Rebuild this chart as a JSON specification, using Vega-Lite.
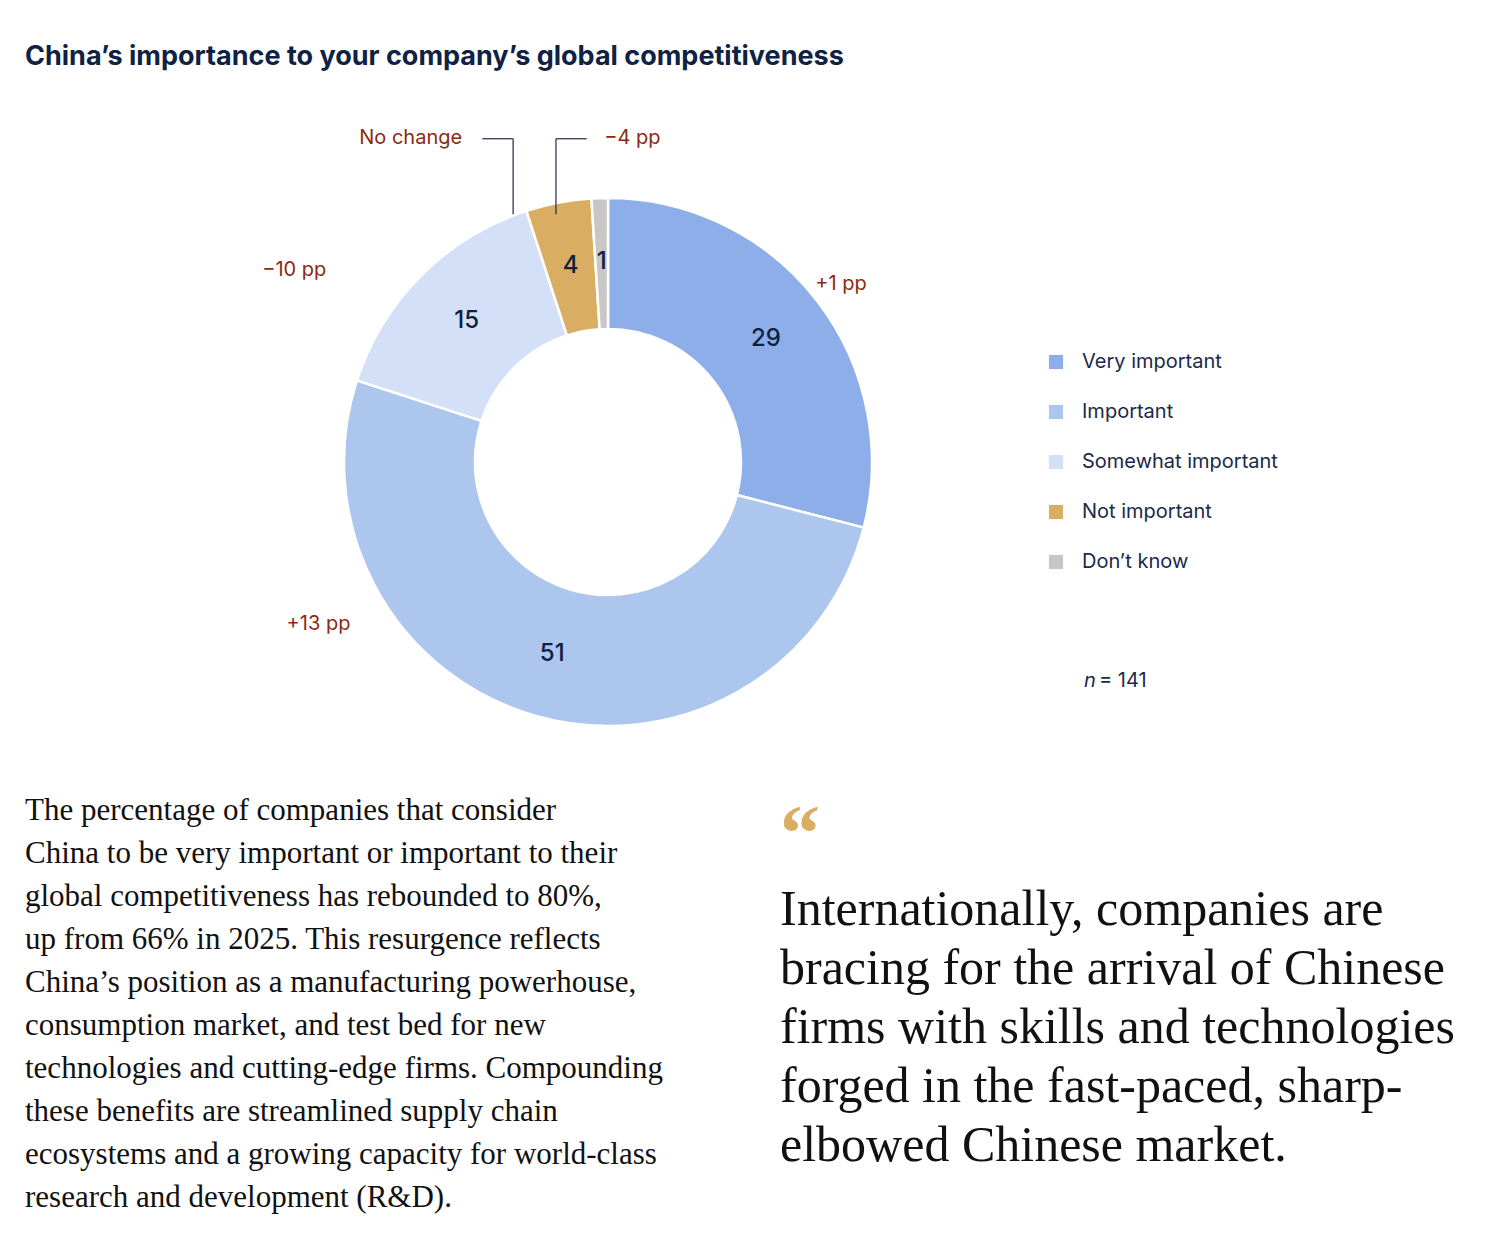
{
  "$schema": "https://vega.github.io/schema/vega-lite/v6.json",
  "width": 1490,
  "height": 1244,
  "padding": 0,
  "autosize": {"type": "fit", "contains": "padding"},
  "background": "#ffffff",
  "config": {"view": {"stroke": null}, "font": "Inter"},
  "data": {
    "values": [
      {"answer": "Very important", "pct": 29, "ord": 1},
      {"answer": "Important", "pct": 51, "ord": 2},
      {"answer": "Somewhat important", "pct": 15, "ord": 3},
      {"answer": "Not important", "pct": 4, "ord": 4},
      {"answer": "Don’t know", "pct": 1, "ord": 5}
    ]
  },
  "layer": [
    {
      "mark": {"type": "arc", "outerRadius": 264, "innerRadius": 133, "stroke": "#ffffff", "strokeWidth": 2.5},
      "encoding": {
        "x": {"value": 608},
        "y": {"value": 462},
        "theta": {"field": "pct", "type": "quantitative", "stack": true},
        "order": {"field": "ord", "type": "quantitative"},
        "color": {
          "field": "answer",
          "type": "nominal",
          "sort": ["Very important", "Important", "Somewhat important", "Not important", "Don’t know"],
          "scale": {
            "domain": ["Very important", "Important", "Somewhat important", "Not important", "Don’t know"],
            "range": ["#8eaee9", "#adc6ee", "#d3e0f7", "#d9ae62", "#c9c6c6"]
          },
          "legend": {
            "title": null,
            "orient": "none",
            "legendX": 1046,
            "legendY": 352,
            "symbolType": "square",
            "symbolSize": 200,
            "symbolStrokeWidth": 0,
            "labelFontSize": 20,
            "labelFont": "Inter",
            "labelColor": "#1a2a4a",
            "labelOffset": 16,
            "rowPadding": 30,
            "labelLimit": 400
          }
        }
      }
    },
    {
      "mark": {"type": "text", "radius": 200, "fontSize": 24, "fontWeight": 500, "color": "#10203f"},
      "encoding": {
        "x": {"value": 608},
        "y": {"value": 462},
        "theta": {"field": "pct", "type": "quantitative", "stack": true},
        "order": {"field": "ord", "type": "quantitative"},
        "text": {"field": "pct", "type": "quantitative", "format": "d"},
        "detail": {"field": "answer"}
      },
      "transform": [{"calculate": "datum.pct + '%'", "as": "lbl"}]
    },
    {
      "data": {"values": [{"t": "China’s importance to your company’s global competitiveness"}]},
      "mark": {"type": "text", "align": "left", "baseline": "alphabetic", "fontSize": 27, "fontWeight": "bold", "color": "#0f2244"},
      "encoding": {"x": {"value": 25}, "y": {"value": 65}, "text": {"field": "t"}}
    },
    {
      "data": {"values": [{"t": "+1 pp", "x": 903, "y": 297}, {"t": "+13 pp", "x": 342, "y": 652}, {"t": "−10 pp", "x": 316, "y": 282}, {"t": "−4 pp", "x": 679, "y": 144}, {"t": "No change", "x": 441, "y": 144}]},
      "mark": {"type": "text", "align": "center", "fontSize": 20, "color": "#8b2a12"},
      "encoding": {"x": {"field": "x", "type": "quantitative", "scale": {"domain": [0, 1490], "range": [0, 1490]}, "axis": null}, "y": {"field": "y", "type": "quantitative", "scale": {"domain": [0, 1244], "range": [0, 1244]}, "axis": null}, "text": {"field": "t"}}
    },
    {
      "data": {"values": [{"x": 518, "y": 145, "x2": 551, "y2": 145}, {"x": 551, "y": 145, "x2": 551, "y2": 224}, {"x": 630, "y": 145, "x2": 597, "y2": 145}, {"x": 597, "y": 145, "x2": 597, "y2": 224}]},
      "mark": {"type": "rule", "color": "#1a2a4a", "strokeWidth": 1.2},
      "encoding": {"x": {"field": "x", "type": "quantitative"}, "y": {"field": "y", "type": "quantitative"}, "x2": {"field": "x2"}, "y2": {"field": "y2"}}
    },
    {
      "data": {"values": [{"t": "n"}]},
      "mark": {"type": "text", "align": "left", "fontSize": 20, "fontStyle": "italic", "color": "#1a2a4a"},
      "encoding": {"x": {"value": 1084}, "y": {"value": 681}, "text": {"field": "t"}}
    },
    {
      "data": {"values": [{"t": "= 141"}]},
      "mark": {"type": "text", "align": "left", "fontSize": 20, "color": "#1a2a4a"},
      "encoding": {"x": {"value": 1099}, "y": {"value": 681}, "text": {"field": "t"}}
    },
    {
      "data": {"values": [{"t": ["The percentage of companies that consider", "China to be very important or important to their", "global competitiveness has rebounded to 80%,", "up from 66% in 2025. This resurgence reflects", "China’s position as a manufacturing powerhouse,", "consumption market, and test bed for new", "technologies and cutting-edge firms. Compounding", "these benefits are streamlined supply chain", "ecosystems and a growing capacity for world-class", "research and development (R&D)."]}]},
      "mark": {"type": "text", "align": "left", "baseline": "alphabetic", "font": "Liberation Serif", "fontSize": 31, "lineHeight": 43, "color": "#111111"},
      "encoding": {"x": {"value": 25}, "y": {"value": 820}, "text": {"field": "t"}}
    },
    {
      "data": {"values": [{"t": "“"}]},
      "mark": {"type": "text", "align": "left", "baseline": "alphabetic", "font": "Liberation Serif", "fontSize": 80, "fontWeight": "bold", "color": "#d9ae62"},
      "encoding": {"x": {"value": 780}, "y": {"value": 860}, "text": {"field": "t"}}
    },
    {
      "data": {"values": [{"t": ["Internationally, companies are", "bracing for the arrival of Chinese", "firms with skills and technologies", "forged in the fast-paced, sharp-", "elbowed Chinese market."]}]},
      "mark": {"type": "text", "align": "left", "baseline": "alphabetic", "font": "Liberation Serif", "fontSize": 50, "lineHeight": 59, "color": "#111111"},
      "encoding": {"x": {"value": 780}, "y": {"value": 925}, "text": {"field": "t"}}
    }
  ]
}
